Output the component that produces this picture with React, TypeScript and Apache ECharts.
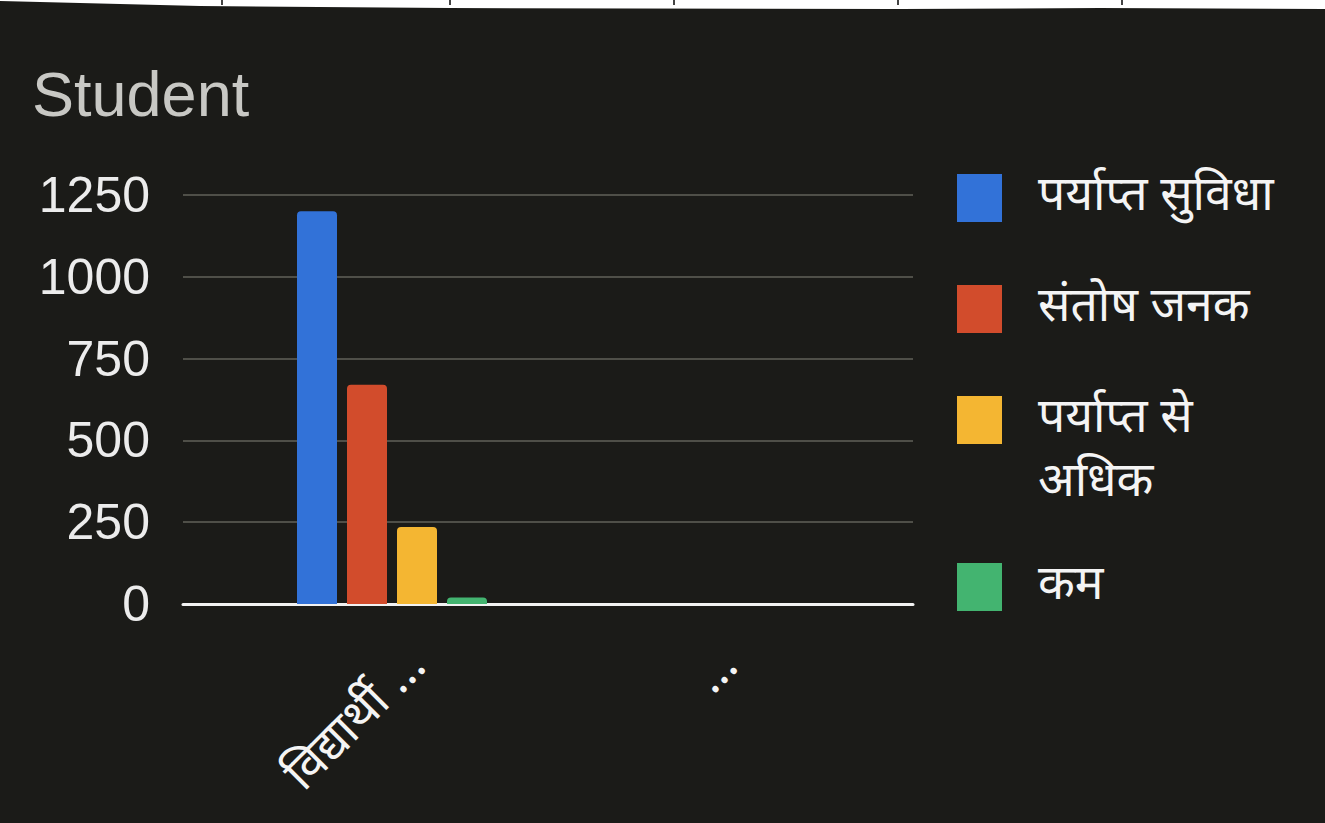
import React, { useEffect, useRef } from "react";
import * as echarts from "echarts";

const categories = ["विद्यार्थी …", "…"];
const seriesNames = ["पर्याप्त सुविधा", "संतोष जनक", "पर्याप्त से अधिक", "कम"];
const seriesColors = ["#3272d8", "#d24c2c", "#f4b632", "#43b470"];
const seriesValues: (number | null)[][] = [
  [1200, null],
  [670, null],
  [235, null],
  [20, null],
];
const yTicks = [0, 250, 500, 750, 1000, 1250];
const titleText = "Student";
const legendTops = [166, 277, 324, 555];

export default function App() {
  const ref = useRef<HTMLDivElement>(null);
  useEffect(() => {
    if (!ref.current) return;
    const chart = echarts.init(ref.current, undefined, { renderer: "svg" });
    const yMin = yTicks[0];
    const yMax = yTicks[yTicks.length - 1];
    const step = yTicks[1] - yTicks[0];
    const fontLatin = "'Liberation Sans', Arial, sans-serif";
    const fontDeva = "'Noto Sans Devanagari', 'Noto Sans', 'Lohit Devanagari', sans-serif";
    chart.setOption({
      animation: false,
      backgroundColor: "#1b1b18",
      title: {
        text: titleText,
        left: 32,
        top: 62,
        padding: 0,
        textStyle: { color: "#c8c8c4", fontSize: 63, fontWeight: "normal", fontFamily: fontLatin },
      },
      grid: [
        { left: 183, right: 412, top: 195, bottom: 219 },
        { left: 232, right: 453, top: 195, bottom: 219 },
        { left: 264, right: 437, top: 195, bottom: 219 },
      ],
      xAxis: [
        {
          type: "category",
          gridIndex: 0,
          data: categories,
          axisLine: { show: true, lineStyle: { color: "#f2f2f2", width: 3 } },
          axisTick: { show: false },
          axisLabel: { show: false },
          splitLine: { show: false },
        },
        {
          type: "category",
          gridIndex: 1,
          data: categories,
          axisLine: { show: false },
          axisTick: { show: false },
          axisLabel: { show: false },
          splitLine: { show: false },
        },
        {
          type: "category",
          gridIndex: 2,
          data: categories,
          axisLine: { show: false },
          axisTick: { show: false },
          axisLabel: {
            rotate: 45,
            margin: 56,
            color: "#f4f4f4",
            fontSize: 48,
            fontFamily: fontDeva,
          },
          splitLine: { show: false },
        },
      ],
      yAxis: [
        {
          type: "value",
          gridIndex: 0,
          min: yMin,
          max: yMax,
          interval: step,
          axisLine: { show: false },
          axisTick: { show: false },
          axisLabel: {
            color: "#ececec",
            fontSize: 50,
            margin: 33,
            fontFamily: fontLatin,
            formatter: (v: number) => String(v),
          },
          splitLine: { show: true, lineStyle: { color: "#4f4f48", width: 2 } },
        },
        {
          type: "value",
          gridIndex: 1,
          min: yMin,
          max: yMax,
          interval: step,
          show: false,
          splitLine: { show: false },
        },
        {
          type: "value",
          gridIndex: 2,
          min: yMin,
          max: yMax,
          interval: step,
          show: false,
          splitLine: { show: false },
        },
      ],
      legend: seriesNames.map((name, i) => ({
        data: [name],
        orient: "vertical",
        left: 957,
        top: legendTops[i],
        padding: 0,
        icon: "rect",
        itemWidth: 45,
        itemHeight: 48,
        formatter: (n: string) =>
          i === 2 ? "\n" + n.replace(/ (?=\S+$)/, "\n") : n,
        textStyle: {
          color: "#f4f4f4",
          fontSize: 48,
          lineHeight: 64,
          fontFamily: fontDeva,
          padding: [0, 0, 0, 31],
        },
      })),
      series: seriesNames.map((name, i) => ({
        name,
        type: "bar",
        xAxisIndex: 1,
        yAxisIndex: 1,
        data: seriesValues[i],
        barWidth: 40,
        barGap: "25%",
        itemStyle: { color: seriesColors[i], borderRadius: [4, 4, 0, 0] },
      })),
      graphic: [
        {
          type: "polygon",
          shape: {
            points: [
              [0, 0], [1325, 0], [1325, 9], [1100, 8], [900, 9], [450, 8], [200, 6], [0, 1],
            ],
          },
          style: { fill: "#ffffff" },
          z: 10,
        },
        ...[222, 450, 674, 898, 1122].map((x) => ({
          type: "line",
          shape: { x1: x, y1: 0, x2: x, y2: 5 },
          style: { stroke: "#444444", lineWidth: 2 },
          z: 11,
        })),
      ],
    });
    return () => chart.dispose();
  }, []);
  return (
    <div
      ref={ref}
      style={{ position: "absolute", left: 0, top: 0, width: 1325, height: 823 }}
    />
  );
}
